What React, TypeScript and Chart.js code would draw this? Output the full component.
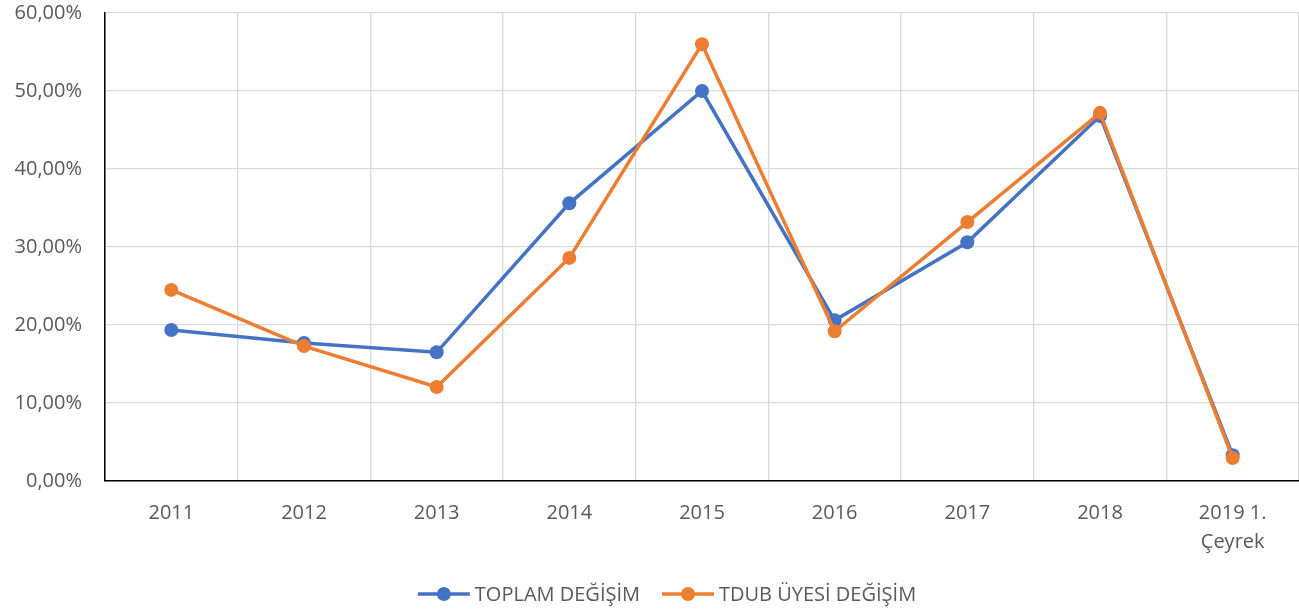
import React, { useEffect, useRef } from "react";
import { Chart, registerables } from "chart.js";

Chart.register(...registerables);

const categories: (string | string[])[] = [
  "2011", "2012", "2013", "2014", "2015", "2016", "2017", "2018", ["2019 1.", "Çeyrek"],
];
const toplamValues = [19.35, 17.7, 16.5, 35.6, 50.0, 20.6, 30.6, 46.8, 3.3];
const tdubValues = [24.5, 17.3, 12.05, 28.6, 56.0, 19.2, 33.2, 47.2, 2.95];
const seriesNames = ["TOPLAM DEĞİŞİM", "TDUB ÜYESİ DEĞİŞİM"];
const seriesColors = ["#4472C4", "#ED7D31"];

const FONT = "'Open Sans', 'Noto Sans', sans-serif";
const TEXT = "#595959";
const FS = 20;

// Excel-style legend (line + marker), drawn below the x axis
const excelLegend = {
  id: "excelLegend",
  afterDraw(chart: any) {
    const ctx = chart.ctx as CanvasRenderingContext2D;
    const datasets = [...chart.data.datasets].sort((a: any, b: any) => a._legendIndex - b._legendIndex);
    ctx.save();
    ctx.font = `${FS}px ${FONT}`;
    ctx.textBaseline = "middle";
    ctx.textAlign = "left";
    const lineW = 52;
    const textGap = 5;
    const itemGap = 22;
    const widths = datasets.map((d: any) => ctx.measureText(d.label).width);
    const total =
      widths.reduce((s: number, w: number) => s + lineW + textGap + w, 0) + itemGap * (datasets.length - 1);
    let x = chart.width / 2 + 14 - total / 2;
    const y = chart.height - 18;
    datasets.forEach((d: any, i: number) => {
      ctx.strokeStyle = d.borderColor;
      ctx.lineWidth = 3.5;
      ctx.beginPath();
      ctx.moveTo(x, y);
      ctx.lineTo(x + lineW, y);
      ctx.stroke();
      ctx.fillStyle = d.borderColor;
      ctx.beginPath();
      ctx.arc(x + lineW / 2, y, 7, 0, Math.PI * 2);
      ctx.fill();
      ctx.fillStyle = TEXT;
      ctx.fillText(d.label, x + lineW + textGap, y + 1);
      x += lineW + textGap + widths[i] + itemGap;
    });
    ctx.restore();
  },
};

export default function App() {
  const ref = useRef<HTMLCanvasElement>(null);
  useEffect(() => {
    if (!ref.current) return;
    const chart = new Chart(ref.current, {
      type: "line",
      plugins: [excelLegend],
      data: {
        labels: categories,
        datasets: [
          {
            label: seriesNames[0],
            data: toplamValues,
            borderColor: seriesColors[0],
            backgroundColor: seriesColors[0],
            borderWidth: 3.5,
            pointRadius: 7,
            pointHoverRadius: 7,
            pointBorderWidth: 0,
            order: 1,
            _legendIndex: 0,
          } as any,
          {
            label: seriesNames[1],
            data: tdubValues,
            borderColor: seriesColors[1],
            backgroundColor: seriesColors[1],
            borderWidth: 3.5,
            pointRadius: 7,
            pointHoverRadius: 7,
            pointBorderWidth: 0,
            order: 0,
            _legendIndex: 1,
          } as any,
        ],
      },
      options: {
        responsive: false,
        animation: false,
        layout: { padding: { left: 0, right: 1, top: 13, bottom: 0 } },
        scales: {
          x: {
            offset: true,
            grid: { offset: true, color: "#d9d9d9", lineWidth: 1.3, drawTicks: false },
            border: { color: "#000000", width: 1.5 },
            ticks: {
              color: TEXT,
              font: { family: FONT, size: FS, lineHeight: 1.45 },
              padding: 18,
              maxRotation: 0,
              autoSkip: false,
            },
            afterFit: (s: any) => {
              s.height = 131;
              s.paddingLeft = 0;
              s.paddingRight = 0;
            },
          },
          y: {
            min: 0,
            max: 60,
            grid: { color: "#d9d9d9", lineWidth: 1.3, drawTicks: false },
            border: { color: "#000000", width: 1.5 },
            ticks: {
              stepSize: 10,
              color: TEXT,
              font: { family: FONT, size: FS },
              padding: 23,
              callback: (v: any) => Number(v).toFixed(2).replace(".", ",") + "%",
            },
            afterFit: (s: any) => {
              s.width = 105;
              s.paddingTop = 0;
              s.paddingBottom = 0;
            },
          },
        },
        plugins: {
          tooltip: { enabled: false },
          legend: { display: false },
        },
      },
    });
    return () => chart.destroy();
  }, []);
  return (
    <div style={{ position: "absolute", left: 0, top: 0 }}>
      <canvas ref={ref} width={1306} height={612} />
    </div>
  );
}
